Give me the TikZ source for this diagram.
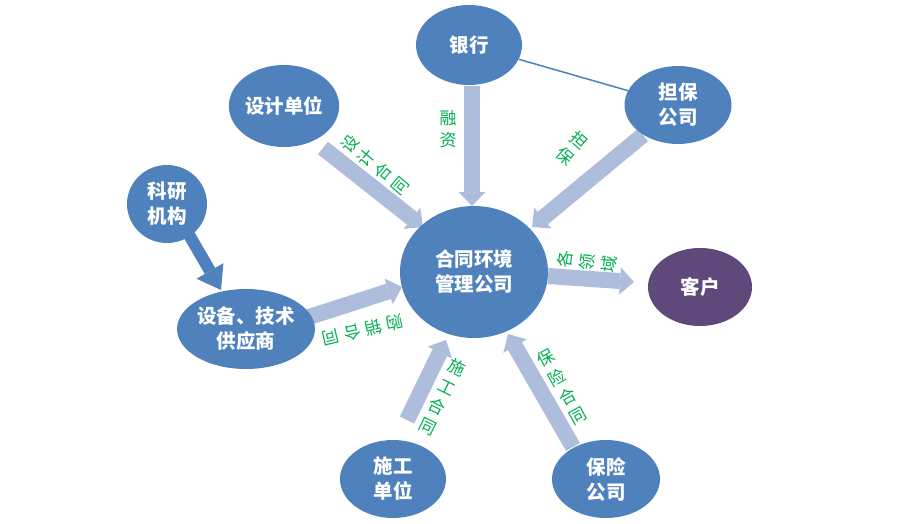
\documentclass[tikz,border=0pt]{standalone}
\usepackage{fontspec}
\newfontfamily\cjk{Noto Sans CJK SC}
\usetikzlibrary{arrows.meta,shapes.geometric}
\definecolor{nodeblue}{HTML}{4F81BD}
\definecolor{nodepurple}{HTML}{5F497A}
\definecolor{arrowblue}{HTML}{AEBDDB}
\definecolor{labelgreen}{HTML}{00B050}
\tikzset{
  bubble/.style={ellipse, fill=nodeblue, draw=none, text=white,
    font=\cjk\bfseries\fontsize{19.5}{25}\selectfont, align=center, inner sep=0pt},
  flow/.style={draw=arrowblue, line width=16pt,
    -{Triangle[length=14pt,width=27pt,line width=0pt]}},
  darkflow/.style={draw=nodeblue, line width=12pt,
    -{Triangle[length=22pt,width=31pt,line width=0pt]}},
  lbl/.style={text=labelgreen, font=\cjk\fontsize{17}{22}\selectfont,
    align=center, inner sep=0pt},
  tie/.style={draw=nodeblue, line width=1.5pt},
}
\begin{document}
\begin{tikzpicture}[x=1pt,y=-1pt]
\useasboundingbox (0,0) rectangle (900,523);
\fill[white] (0,0) rectangle (900,523);

% arrow end points
\coordinate (dS) at (323,148);  \coordinate (dE) at (423,227);
\coordinate (bS) at (472,86);   \coordinate (bE) at (472,206);
\coordinate (gS) at (643,135);  \coordinate (gE) at (532,227);
\coordinate (sS) at (306,318);  \coordinate (sE) at (402,287);
\coordinate (cS) at (407,420);  \coordinate (cE) at (446,340);
\coordinate (iS) at (573,447);  \coordinate (iE) at (508,334);
\coordinate (kS) at (548,276);  \coordinate (kE) at (634,282);
\coordinate (rS) at (188,233);  \coordinate (rE) at (221,290);

% block arrows
\draw[flow] (dS) -- (dE);
\draw[flow] (bS) -- (bE);
\draw[flow] (gS) -- (gE);
\draw[flow] (sS) -- (sE);
\draw[flow] (cS) -- (cE);
\draw[flow] (iS) -- (iE);
\draw[flow] (kS) -- (kE);
\draw[darkflow] (rS) -- (rE);

% nodes
\node[bubble, minimum width=148pt, minimum height=132pt] (hub) at (474,272) {合同环境\\管理公司};
\node[bubble, minimum width=106pt, minimum height=80pt] (bank) at (469,45) {银行};
\node[bubble, minimum width=107pt, minimum height=78pt] (guar) at (678,105) {担保\\公司};
\node[bubble, minimum width=103pt, minimum height=82pt] (design) at (284,106) {设计单位};
\node[bubble, minimum width=80pt, minimum height=78pt] (research) at (167,204) {科研\\机构};
\node[bubble, minimum width=108pt, minimum height=80pt] (supply) at (246,329) {设备、技术\\供应商};
\node[bubble, fill=nodepurple, minimum width=104pt, minimum height=78pt] (client) at (700,287) {客户};
\node[bubble, minimum width=106pt, minimum height=78pt] (build) at (393,479) {施工\\单位};
\node[bubble, minimum width=108pt, minimum height=78pt] (insure) at (606,479) {保险\\公司};

\draw[tie] (bank) -- (guar);

% labels
\node[lbl, rotate=50] (l1) at (375,165) {设\\计\\合\\同};
\node[lbl] (l2) at (448,129) {融\\资};
\node[lbl, rotate=-41] (l3) at (572,148) {担\\保};
\node[lbl, rotate=83] (l4) at (587,262) {各\\领\\域};
\node[lbl, rotate=29] (l5) at (562,387) {保\\险\\合\\同};
\node[lbl, rotate=-26] (l6) at (442,397) {施\\工\\合\\同};
\node[lbl, rotate=193] (l7) at (363,330) {购\hspace{5pt}销\hspace{5pt}合\hspace{5pt}同};
\end{tikzpicture}
\end{document}
